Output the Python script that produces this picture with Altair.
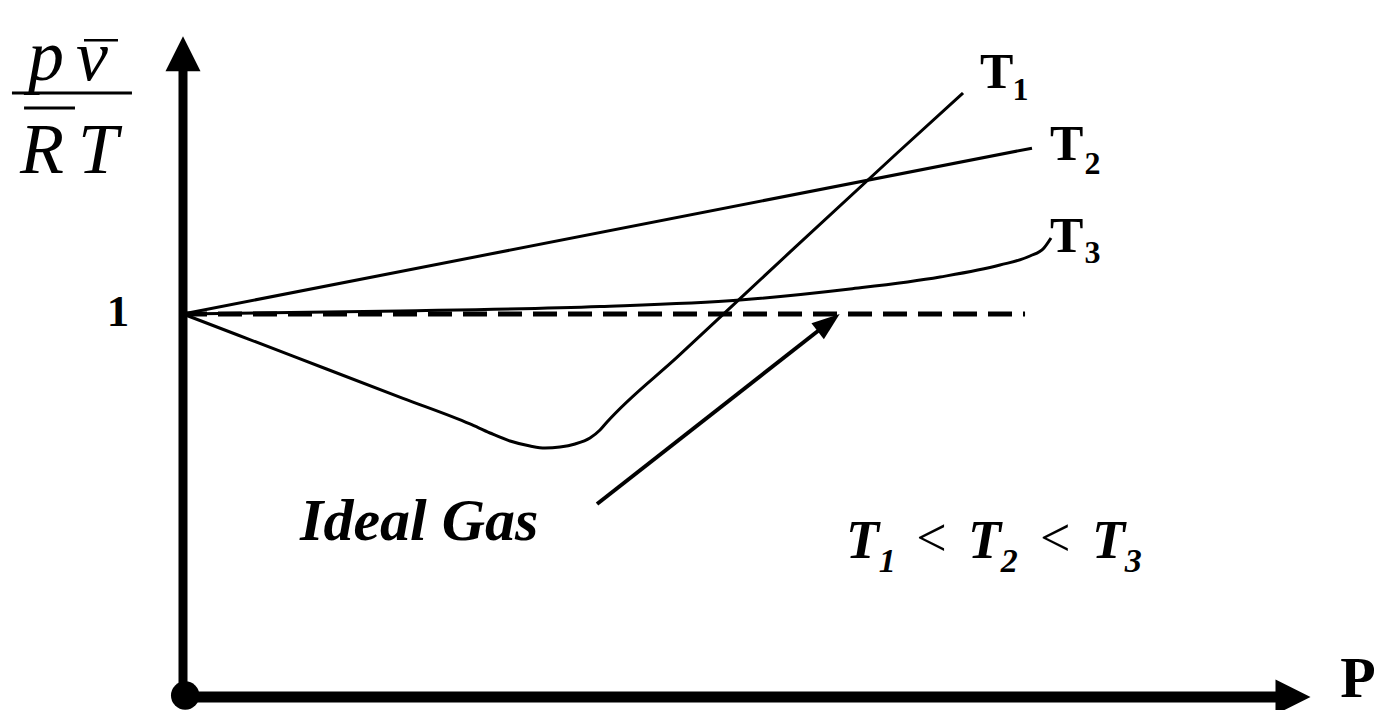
import math
import altair as alt
import pandas as pd

# ---- canvas and scale geometry -------------------------------------------
W, H = 1385, 710
PX_PER_P = 110.0      # pixels per unit of pressure
PX_PER_Z = 383.0      # pixels per unit of compressibility factor
X0, Y0 = 183.0, 697.0  # pixel position of the origin
P_DOMAIN = [-X0 / PX_PER_P, (W - X0) / PX_PER_P]
Z_DOMAIN = [-(H - Y0) / PX_PER_Z, Y0 / PX_PER_Z]
SERIF = "Liberation Serif"

# ---- compressibility curves Z = p v / (R T) versus P -----------------------
p_t1 = [0.0, 1.0, 2.0, 2.609, 2.791, 2.973, 3.155, 3.291, 3.427, 3.564, 3.700,
        3.791, 3.855, 4.5, 5.5, 6.5, 7.091]
z_t1 = [1.0, 0.8899, 0.7798, 0.7128, 0.6893, 0.6684, 0.6554, 0.6501, 0.6527,
        0.6606, 0.6762, 0.6971, 0.7180, 0.8893, 1.1568, 1.4223, 1.577]

p_t2 = [0.0, 7.718]
z_t2 = [1.0, 1.433]

p_t3 = [0.0, 1.973, 3.791, 5.064, 6.064, 6.882, 7.427, 7.700, 7.827, 7.891]
z_t3 = [1.0, 1.0078, 1.0196, 1.0366, 1.0653, 1.0966, 1.1279, 1.1514, 1.1723, 1.1984]

# ideal gas reference Z = 1
p_ideal = [0.0, 7.655]
z_ideal = [1.0, 1.0]

# pointer from the "Ideal Gas" caption to the reference line
pointer_p = [3.764, 5.970]
pointer_z = [0.504, 1.000]

# axis extents (P axis, Z axis)
axis_p_end = 10.25
axis_z_end = 1.725

xs = alt.Scale(domain=P_DOMAIN, nice=False, zero=False)
ys = alt.Scale(domain=Z_DOMAIN, nice=False, zero=False)


def X(field="p"):
    return alt.X(f"{field}:Q", scale=xs, axis=None)


def Y(field="z"):
    return alt.Y(f"{field}:Q", scale=ys, axis=None)


curves = pd.DataFrame(
    [{"series": "T1", "p": p, "z": z} for p, z in zip(p_t1, z_t1)]
    + [{"series": "T2", "p": p, "z": z} for p, z in zip(p_t2, z_t2)]
    + [{"series": "T3", "p": p, "z": z} for p, z in zip(p_t3, z_t3)]
)
curve_layer = alt.Chart(curves).mark_line(
    color="black", strokeWidth=3, interpolate="monotone"
).encode(x=X(), y=Y(), detail="series:N")

ideal = pd.DataFrame({"p": p_ideal, "z": z_ideal})
ideal_layer = alt.Chart(ideal).mark_line(
    color="black", strokeWidth=5, strokeDash=[24, 11]
).encode(x=X(), y=Y())

# ---- pointer arrow ----------------------------------------------------------
dxp = (pointer_p[1] - pointer_p[0]) * PX_PER_P
dyp = (pointer_z[1] - pointer_z[0]) * PX_PER_Z
seg = math.hypot(dxp, dyp)
head_len = 28.0
ux, uy = dxp / seg, dyp / seg
head_angle = math.degrees(math.atan2(ux, uy))
head_c_p = pointer_p[1] - ux * head_len / 2 / PX_PER_P
head_c_z = pointer_z[1] - uy * head_len / 2 / PX_PER_Z
shaft_end_p = pointer_p[1] - ux * (head_len - 4) / PX_PER_P
shaft_end_z = pointer_z[1] - uy * (head_len - 4) / PX_PER_Z

shaft = pd.DataFrame({"p": [pointer_p[0]], "z": [pointer_z[0]],
                      "p2": [shaft_end_p], "z2": [shaft_end_z]})
shaft_layer = alt.Chart(shaft).mark_rule(color="black", strokeWidth=4).encode(
    x=X(), y=Y(), x2="p2:Q", y2="z2:Q")

ARROW_UP = "M0,-1L0.72,1L-0.72,1Z"
head = pd.DataFrame({"p": [head_c_p], "z": [head_c_z]})
head_layer = alt.Chart(head).mark_point(
    shape=ARROW_UP, filled=True, color="black", opacity=1,
    size=head_len ** 2, angle=round(head_angle % 360, 2), strokeWidth=0
).encode(x=X(), y=Y())

# ---- axes -------------------------------------------------------------------
v_head_len = 35.0
h_head_len = 35.0
z_shaft_top = axis_z_end - v_head_len / PX_PER_Z + 2 / PX_PER_Z
p_shaft_end = axis_p_end - h_head_len / PX_PER_P + 2 / PX_PER_P

z_axis = pd.DataFrame({"p": [0.0], "z": [0.0], "p2": [0.0], "z2": [z_shaft_top]})
p_axis = pd.DataFrame({"p": [0.0], "z": [0.0], "p2": [p_shaft_end], "z2": [0.0]})
z_axis_layer = alt.Chart(z_axis).mark_rule(color="black", strokeWidth=9).encode(
    x=X(), y=Y(), x2="p2:Q", y2="z2:Q")
p_axis_layer = alt.Chart(p_axis).mark_rule(color="black", strokeWidth=11).encode(
    x=X(), y=Y(), x2="p2:Q", y2="z2:Q")

heads = pd.DataFrame({
    "p": [0.0, axis_p_end - h_head_len / 2 / PX_PER_P],
    "z": [axis_z_end - v_head_len / 2 / PX_PER_Z, 0.0],
    "angle": [0, 90],
})
axis_heads_layer = alt.Chart(heads).mark_point(
    shape="M0,-1L1,1L-1,1Z", filled=True, color="black", opacity=1,
    size=v_head_len ** 2, strokeWidth=0
).encode(x=X(), y=Y(), angle=alt.Angle("angle:Q", scale=None))

origin = pd.DataFrame({"p": [0.02], "z": [0.004]})
origin_layer = alt.Chart(origin).mark_point(
    shape="circle", filled=True, color="black", opacity=1, size=810, strokeWidth=0
).encode(x=X(), y=Y())

# ---- text -------------------------------------------------------------------
def text_layer(rows, weight, style, align="left", baseline="alphabetic"):
    df = pd.DataFrame(rows, columns=["text", "p", "z", "fs"])
    return alt.Chart(df).mark_text(
        font=SERIF, fontWeight=weight, fontStyle=style, align=align,
        baseline=baseline, color="black"
    ).encode(x=X(), y=Y(), text="text:N", size=alt.Size("fs:Q", scale=None, legend=None))


# axis name for pressure, sitting on the bottom edge
p_label = text_layer([["P", 10.52, -0.031, 58]], "bold", "normal", baseline="bottom")

bold_labels = text_layer([
    ["T", 7.245, 1.590, 50], ["1", 7.540, 1.559, 32],
    ["T", 7.882, 1.402, 50], ["2", 8.195, 1.366, 32],
    ["T", 7.882, 1.162, 50], ["3", 8.195, 1.133, 32],
], "bold", "normal")

one_label = text_layer([["1", -0.591, 0.969, 45]], "bold", "normal", align="center")

bold_italic = text_layer([
    ["Ideal Gas", 1.064, 0.410, 60],
    ["T", 6.027, 0.363, 54], ["1", 6.325, 0.326, 34],
    ["T", 7.136, 0.363, 54], ["2", 7.434, 0.326, 34],
    ["T", 8.264, 0.363, 54], ["3", 8.561, 0.326, 34],
], "bold", "italic")

less_than = text_layer([
    ["<", 6.665, 0.368, 54],
    ["<", 7.791, 0.368, 54],
], "normal", "normal")

y_label = text_layer([
    ["p", -1.409, 1.611, 72],
    ["v", -0.973, 1.611, 72],
    ["R", -1.482, 1.368, 72],
    ["T", -0.955, 1.368, 72],
], "normal", "italic")

bars = pd.DataFrame({
    "p": [-1.555, -1.445, -0.900],
    "p2": [-0.464, -0.982, -0.591],
    "z": [1.577, 1.538, 1.715],
    "w": [3, 3, 2.5],
})
bars_layer = alt.Chart(bars).mark_rule(color="black").encode(
    x=X(), x2="p2:Q", y=Y(), strokeWidth=alt.StrokeWidth("w:Q", scale=None, legend=None))

chart = alt.layer(
    ideal_layer, curve_layer, shaft_layer, head_layer,
    z_axis_layer, p_axis_layer, axis_heads_layer, origin_layer,
    p_label, bold_labels, one_label, bold_italic, less_than, y_label, bars_layer,
).properties(
    width=W, height=H, padding=0, autosize=alt.AutoSizeParams(type="none"),
    background="white",
).configure_view(stroke=None)

chart.save("out.html", embed_options={"renderer": "svg", "actions": False})
